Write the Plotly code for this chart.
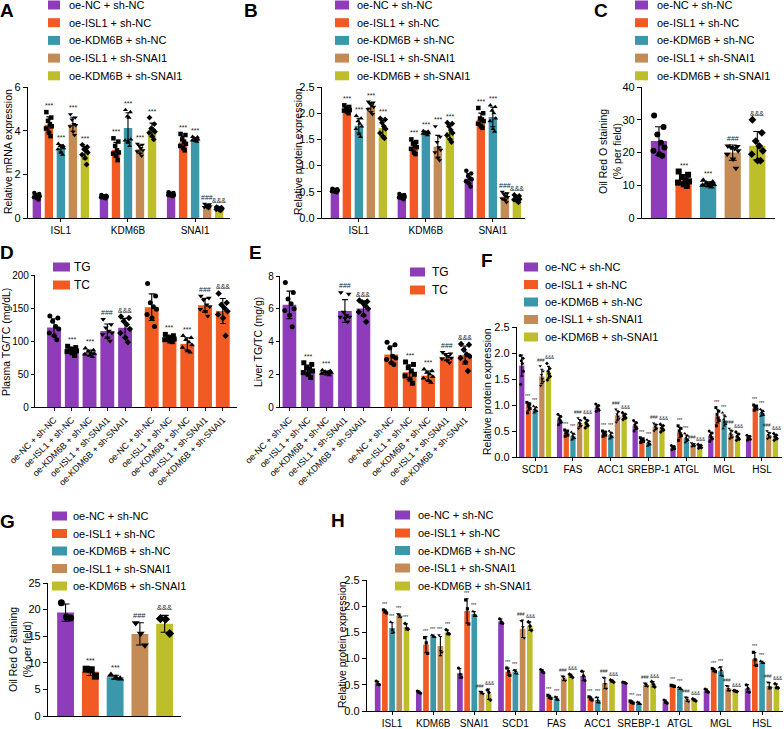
import numpy as np
import plotly.graph_objects as go

W, H = 784, 729
FONT = "Liberation Sans, Arial, sans-serif"

conditions = ["oe-NC + sh-NC", "oe-ISL1 + sh-NC", "oe-KDM6B + sh-NC",
              "oe-ISL1 + sh-SNAI1", "oe-KDM6B + sh-SNAI1"]
cond_colors = ["#8E3CB9", "#F15A22", "#3A98AA", "#C58B57", "#BEBE2B"]
cond_symbols = ["circle", "square", "triangle-up", "triangle-down", "diamond"]
lipid_kinds = ["TG", "TC"]
lipid_colors = ["#8E3CB9", "#F15A22"]

# ---------------- Panel A : relative mRNA expression ----------------
A_genes = ["ISL1", "KDM6B", "SNAI1"]
A_points = [
    [[1.15, 1.1, 1.05, 1.0, 1.0, 0.95, 0.9, 0.85], [1.05, 1.02, 1.0, 0.98, 0.97, 0.95, 0.93, 0.9], [1.18, 1.15, 1.12, 1.1, 1.05, 1.05, 1.02, 1.0]],
    [[4.85, 4.6, 4.45, 4.3, 4.2, 4.1, 3.9, 3.75], [3.65, 3.5, 3.3, 3.1, 3.0, 2.95, 2.85, 2.65], [3.85, 3.8, 3.6, 3.5, 3.4, 3.3, 3.2, 3.1]],
    [[3.4, 3.3, 3.3, 3.25, 3.2, 3.15, 3.0, 2.9], [4.95, 4.85, 4.65, 4.6, 3.6, 3.55, 3.5, 3.3], [3.72, 3.7, 3.65, 3.6, 3.6, 3.55, 3.55, 3.5]],
    [[4.75, 4.6, 4.5, 4.3, 4.25, 4.2, 3.95, 3.8], [3.4, 3.35, 3.3, 3.2, 3.1, 3.05, 2.95, 2.85], [0.65, 0.62, 0.58, 0.55, 0.53, 0.5, 0.48, 0.45]],
    [[3.35, 3.25, 3.15, 3.1, 3.0, 2.9, 2.75, 2.45], [4.6, 4.3, 4.1, 4.05, 3.95, 3.9, 3.75, 3.6], [0.5, 0.47, 0.45, 0.43, 0.42, 0.4, 0.38, 0.35]],
]
A_sig = [["", "", ""], ["***", "***", "***"], ["***", "***", "***"], ["***", "***", "###"], ["***", "***", "&&&"]]

# ---------------- Panel B : relative protein expression ----------------
B_genes = ["ISL1", "KDM6B", "SNAI1"]
B_points = [
    [[0.56, 0.55, 0.54, 0.53, 0.52, 0.51, 0.5, 0.49], [0.46, 0.44, 0.43, 0.42, 0.4, 0.39, 0.38, 0.36], [0.9, 0.85, 0.8, 0.76, 0.74, 0.7, 0.66, 0.6]],
    [[2.15, 2.12, 2.1, 2.08, 2.06, 2.05, 2.03, 2.0], [1.5, 1.45, 1.42, 1.38, 1.35, 1.32, 1.25, 1.22], [2.1, 2.0, 1.9, 1.88, 1.85, 1.8, 1.75, 1.72]],
    [[1.95, 1.9, 1.85, 1.8, 1.75, 1.7, 1.6, 1.55], [1.66, 1.65, 1.64, 1.63, 1.62, 1.61, 1.6, 1.58], [2.15, 2.12, 2.05, 2.0, 1.9, 1.85, 1.7, 1.65]],
    [[2.22, 2.2, 2.18, 2.15, 2.12, 2.08, 2.02, 1.98], [1.75, 1.55, 1.45, 1.35, 1.3, 1.25, 1.15, 1.1], [0.5, 0.47, 0.45, 0.42, 0.4, 0.37, 0.35, 0.3]],
    [[1.9, 1.88, 1.82, 1.75, 1.7, 1.62, 1.55, 1.52], [1.82, 1.8, 1.75, 1.68, 1.62, 1.58, 1.5, 1.45], [0.44, 0.42, 0.4, 0.38, 0.36, 0.35, 0.33, 0.3]],
]
B_sig = [["", "", ""], ["***", "***", "***"], ["***", "***", "***"], ["***", "***", "###"], ["***", "***", "&&&"]]

# ---------------- Panel C : Oil Red O staining ----------------
C_points = [
    [31.3, 27.8, 25.5, 23.0, 21.5, 20.5, 19.5, 19.0],
    [14.2, 13.2, 12.5, 11.5, 11.2, 10.8, 10.3, 9.8],
    [11.5, 11.0, 10.6, 10.4, 10.2, 10.0, 9.8, 9.5],
    [22.0, 21.8, 21.5, 21.2, 20.5, 19.5, 18.0, 15.2],
    [30.0, 26.0, 23.5, 22.0, 20.5, 19.5, 17.5, 17.5],
]
C_sig = ["", "***", "***", "###", "&&&"]

# ---------------- Panel D : plasma TG / TC ----------------
D_points_TG = [
    [138, 135, 130, 122, 118, 112, 108, 102],
    [92, 90, 88, 87, 85, 84, 82, 78],
    [89, 86, 84, 82, 81, 80, 78, 76],
    [133, 125, 120, 115, 112, 110, 105, 100],
    [137, 135, 130, 125, 118, 112, 105, 98],
]
D_points_TC = [
    [187, 168, 158, 152, 148, 140, 135, 122],
    [110, 108, 106, 104, 103, 102, 100, 99],
    [108, 105, 102, 98, 94, 90, 85, 83],
    [168, 165, 162, 155, 152, 148, 145, 138],
    [172, 158, 155, 150, 145, 140, 135, 108],
]
D_sig = ["", "***", "***", "###", "&&&"]

# ---------------- Panel E : liver TG / TC ----------------
E_points_TG = [
    [7.6, 7.0, 6.6, 6.3, 6.0, 5.9, 5.6, 4.9],
    [2.7, 2.6, 2.4, 2.3, 2.2, 2.1, 2.0, 1.8],
    [2.25, 2.2, 2.15, 2.1, 2.1, 2.05, 2.0, 1.95],
    [7.0, 6.9, 5.8, 5.6, 5.5, 5.5, 5.4, 5.2],
    [6.5, 6.45, 6.4, 6.2, 6.0, 5.8, 5.6, 5.2],
]
E_points_TC = [
    [3.95, 3.8, 3.6, 3.1, 3.0, 2.9, 2.7, 2.6],
    [2.75, 2.6, 2.4, 2.2, 2.0, 1.9, 1.7, 1.45],
    [2.3, 2.2, 2.1, 2.0, 1.85, 1.75, 1.6, 1.5],
    [3.35, 3.25, 3.2, 3.1, 3.0, 2.95, 2.85, 2.7],
    [3.85, 3.8, 3.5, 3.2, 3.1, 3.0, 2.75, 2.2],
]
E_sig = ["", "***", "***", "###", "&&&"]

# ---------------- Panel F : lipid-metabolism proteins (mice) ----------------
F_genes = ["SCD1", "FAS", "ACC1", "SREBP-1", "ATGL", "MGL", "HSL"]
F_points = [
    [[1.95, 1.9, 1.85, 1.8, 1.65, 1.4], [0.82, 0.78, 0.74, 0.7, 0.67, 0.62], [1.02, 0.99, 0.96, 0.93, 0.9, 0.88],
     [0.7, 0.66, 0.62, 0.58, 0.55, 0.5], [0.22, 0.2, 0.19, 0.17, 0.16, 0.14], [0.5, 0.46, 0.42, 0.38, 0.35, 0.3],
     [0.42, 0.4, 0.38, 0.36, 0.34, 0.32]],
    [[1.05, 1.02, 1.0, 0.97, 0.93, 0.85], [0.52, 0.5, 0.47, 0.45, 0.42, 0.4], [0.5, 0.48, 0.46, 0.44, 0.42, 0.4],
     [0.37, 0.35, 0.33, 0.31, 0.3, 0.28], [0.6, 0.55, 0.5, 0.45, 0.41, 0.32], [0.95, 0.88, 0.82, 0.75, 0.7, 0.6],
     [1.0, 0.98, 0.96, 0.94, 0.92, 0.9]],
    [[0.98, 0.95, 0.92, 0.9, 0.88, 0.85], [0.48, 0.44, 0.41, 0.38, 0.36, 0.33], [0.5, 0.46, 0.43, 0.4, 0.38, 0.35],
     [0.33, 0.3, 0.28, 0.26, 0.24, 0.21], [0.45, 0.41, 0.37, 0.34, 0.32, 0.28], [0.85, 0.78, 0.72, 0.68, 0.63, 0.55],
     [0.92, 0.88, 0.86, 0.84, 0.81, 0.79]],
    [[1.75, 1.65, 1.58, 1.5, 1.45, 1.37], [0.75, 0.7, 0.66, 0.64, 0.6, 0.55], [0.92, 0.87, 0.82, 0.78, 0.74, 0.67],
     [0.65, 0.62, 0.59, 0.57, 0.55, 0.5], [0.27, 0.25, 0.23, 0.22, 0.21, 0.2], [0.55, 0.5, 0.45, 0.42, 0.38, 0.35],
     [0.5, 0.46, 0.43, 0.4, 0.38, 0.35]],
    [[1.8, 1.7, 1.65, 1.6, 1.55, 1.48], [0.75, 0.7, 0.66, 0.63, 0.6, 0.56], [0.85, 0.82, 0.79, 0.77, 0.75, 0.72],
     [0.63, 0.6, 0.56, 0.54, 0.52, 0.48], [0.24, 0.22, 0.21, 0.2, 0.18, 0.17], [0.48, 0.44, 0.4, 0.37, 0.34, 0.32],
     [0.45, 0.42, 0.39, 0.37, 0.35, 0.32]],
]
F_sig = [[""] * 7, ["***"] * 7, ["***"] * 7, ["###"] * 7, ["&&&"] * 7]

# ---------------- Panel G : Oil Red O staining (cells) ----------------
G_points = [
    [21.3, 18.6, 18.4],
    [8.8, 8.7, 7.5],
    [7.7, 7.2, 7.0],
    [17.5, 15.5, 13.3],
    [18.3, 18.2, 15.5],
]
G_sig = ["", "***", "***", "###", "&&&"]

# ---------------- Panel H : proteins (cells) ----------------
H_genes = ["ISL1", "KDM6B", "SNAI1", "SCD1", "FAS", "ACC1", "SREBP-1", "ATGL", "MGL", "HSL"]
H_points = [
    [[0.57, 0.52, 0.5], [0.38, 0.36, 0.34], [0.82, 0.7, 0.64], [1.76, 1.7, 1.67], [0.79, 0.76, 0.73],
     [0.76, 0.67, 0.58], [0.55, 0.54, 0.53], [0.21, 0.18, 0.15], [0.42, 0.39, 0.36], [0.5, 0.43, 0.36]],
    [[1.93, 1.9, 1.87], [1.4, 1.3, 1.1], [2.12, 1.95, 1.66], [0.82, 0.75, 0.68], [0.3, 0.27, 0.24],
     [0.27, 0.24, 0.21], [0.19, 0.17, 0.15], [0.49, 0.48, 0.47], [0.81, 0.78, 0.75], [1.12, 0.98, 0.87]],
    [[1.7, 1.55, 1.5], [1.45, 1.43, 1.41], [1.9, 1.84, 1.81], [0.78, 0.76, 0.71], [0.27, 0.24, 0.21],
     [0.26, 0.21, 0.16], [0.17, 0.15, 0.13], [0.45, 0.43, 0.41], [0.83, 0.78, 0.67], [0.95, 0.93, 0.91]],
    [[1.85, 1.82, 1.79], [1.45, 1.15, 1.12], [0.37, 0.35, 0.33], [1.72, 1.6, 1.39], [0.66, 0.62, 0.58],
     [0.64, 0.52, 0.43], [0.53, 0.5, 0.47], [0.26, 0.22, 0.18], [0.48, 0.42, 0.39], [0.55, 0.45, 0.44]],
    [[1.67, 1.58, 1.56], [1.55, 1.48, 1.47], [0.4, 0.35, 0.21], [1.7, 1.62, 1.54], [0.7, 0.67, 0.64],
     [0.59, 0.57, 0.55], [0.56, 0.51, 0.46], [0.23, 0.21, 0.19], [0.39, 0.38, 0.37], [0.52, 0.45, 0.44]],
]
H_sig = [[""] * 10,
         ["***"] * 10,
         ["***"] * 10,
         ["***", "***", "###", "###", "###", "###", "###", "###", "###", "###"],
         ["***", "***", "&&&", "&&&", "&&&", "&&&", "&&&", "&&&", "&&&", "&&&"]]

# ====================================================================
fig = go.Figure()
annotations = []
shapes = []
JIT8 = [-0.3, 0.28, -0.1, 0.12, 0.34, -0.34, 0.02, 0.2]
JIT6 = [-0.3, 0.25, -0.08, 0.1, 0.32, -0.2]
JIT3 = [-0.25, 0.05, 0.3]


def jit(n):
    return JIT8[:n] if n > 6 else (JIT6[:n] if n > 3 else JIT3[:n])


def axn(n):
    return ("x", "y") if n == 1 else (f"x{n}", f"y{n}")


def mean_sd(pts):
    a = np.asarray(pts, dtype=float)
    return float(a.mean()), float(a.std(ddof=1))


def add_bars(n, xs, pts_list, color, name, bw, msize, symbol_list, sig_list, sig_size, cap=3, spread=False):
    xa, ya = axn(n)
    means, sds = zip(*[mean_sd(p) for p in pts_list])
    fig.add_trace(go.Bar(x=list(xs), y=list(means), width=bw, marker=dict(color=color, line=dict(width=0)),
                         error_y=dict(type="data", array=list(sds), color="black", thickness=1.1, width=cap),
                         name=name, xaxis=xa, yaxis=ya, showlegend=False, hoverinfo="skip"))
    for x, p, m, s, sym, sg in zip(xs, pts_list, means, sds, symbol_list, sig_list):
        fig.add_trace(go.Scatter(x=[x + o * bw for o in jit(len(p))], y=p, mode="markers",
                                 marker=dict(symbol=sym, size=msize, color="black", line=dict(width=0)),
                                 xaxis=xa, yaxis=ya, showlegend=False, hoverinfo="skip"))
        if sg:
            top = max(m + s, max(p))
            xs_shift = 0
            if spread:
                xs_shift = -1.2 if sg == "###" else (1.2 if sg == "&&&" else 0)
            annotations.append(dict(x=x, y=top, xref=xa, yref=ya, text=sg, showarrow=False,
                                    yanchor="bottom", yshift=1, xshift=xs_shift,
                                    font=dict(size=sig_size, color="#222", family=FONT)))


def add_grouped(n, genes, points, sig, pitch, bw, msize, sig_size, cap, spread=False):
    for s in range(5):
        xs = [g + (s - 2) * pitch for g in range(len(genes))]
        add_bars(n, xs, points[s], cond_colors[s], conditions[s], bw, msize,
                 [cond_symbols[s]] * len(genes), sig[s], sig_size, cap=cap, spread=spread)


# A, B, F, H grouped panels
add_grouped(1, A_genes, A_points, A_sig, 0.179, 0.125, 4.5, 7, 2.5)
add_grouped(2, B_genes, B_points, B_sig, 0.179, 0.125, 4.5, 7, 2.5)
add_grouped(6, F_genes, F_points, F_sig, 0.177, 0.14, 3, 4.5, 1.5, spread=True)
add_grouped(8, H_genes, H_points, H_sig, 0.175, 0.138, 3.2, 4.5, 1.5, spread=True)

# C and G: one bar per condition
for s in range(5):
    add_bars(3, [s], [C_points[s]], cond_colors[s], conditions[s], 0.66, 6,
             [cond_symbols[s]], [C_sig[s]], 7, cap=4)
    add_bars(7, [s], [G_points[s]], cond_colors[s], conditions[s], 0.68, 7,
             [cond_symbols[s]], [G_sig[s]], 7.5, cap=4)

# D and E: TG / TC
for n, tg, tc, sg in [(4, D_points_TG, D_points_TC, D_sig), (5, E_points_TG, E_points_TC, E_sig)]:
    bw = 0.78 if n == 4 else 0.74
    for k, pts in enumerate([tg, tc]):
        xs = [i + 5.5 * k for i in range(5)]
        add_bars(n, xs, pts, lipid_colors[k], lipid_kinds[k], bw, 5, cond_symbols, sg, 7, cap=3)

# ---------------- axes ----------------
axis_line = dict(showline=True, linecolor="black", linewidth=1.3, showgrid=False, zeroline=False,
                 ticks="outside", ticklen=4, tickwidth=1.3, tickcolor="black", fixedrange=True,
                 automargin=False)
tick_font = dict(size=11, color="black", family=FONT)

panels = {
    1: dict(box=(28, 230, 87, 218), xr=(-0.49, 2.52), yr=(0, 6), yt=[0, 2, 4, 6], yf="",
            xt=[0, 1, 2], xl=A_genes, xang=0, xfs=10, yfs=11),
    2: dict(box=(322, 525, 87, 218), xr=(-0.55, 2.48), yr=(0, 2.5), yt=[0, 0.5, 1, 1.5, 2, 2.5], yf=".1f",
            xt=[0, 1, 2], xl=B_genes, xang=0, xfs=10, yfs=11),
    3: dict(box=(642, 775, 87, 218), xr=(-0.69, 4.72), yr=(0, 40), yt=[0, 10, 20, 30, 40], yf="",
            xt=None, xl=None, xang=0, xfs=10, yfs=11),
    4: dict(box=(35, 237, 275, 407), xr=(-1.07, 10.3), yr=(0, 200), yt=[0, 50, 100, 150, 200], yf="",
            xt=[i + 5.5 * k for k in range(2) for i in range(5)], xl=conditions * 2, xang=-45, xfs=9, yfs=10),
    5: dict(box=(280, 472, 276, 407), xr=(-0.51, 9.87), yr=(0, 8), yt=[0, 2, 4, 6, 8], yf="",
            xt=[i + 5.5 * k for k in range(2) for i in range(5)], xl=conditions * 2, xang=-45, xfs=9, yfs=10),
    6: dict(box=(517, 782, 327, 457), xr=(-0.48, 6.53), yr=(0, 2.5), yt=[0, 0.5, 1, 1.5, 2, 2.5], yf=".1f",
            xt=list(range(7)), xl=F_genes, xang=0, xfs=10, yfs=11),
    7: dict(box=(48, 181, 583, 716), xr=(-0.71, 4.66), yr=(0, 25), yt=[0, 5, 10, 15, 20, 25], yf="",
            xt=None, xl=None, xang=0, xfs=10, yfs=11),
    8: dict(box=(367, 783, 580, 711), xr=(-0.61, 9.51), yr=(0, 2.5), yt=[0, 0.5, 1, 1.5, 2, 2.5], yf=".1f",
            xt=list(range(10)), xl=H_genes, xang=0, xfs=10, yfs=11),
}

layout_axes = {}
for n, p in panels.items():
    x0, x1, y0, y1 = p["box"]
    xa, ya = axn(n)
    xkey = "xaxis" if n == 1 else f"xaxis{n}"
    ykey = "yaxis" if n == 1 else f"yaxis{n}"
    xd = dict(axis_line, domain=[x0 / W, x1 / W], range=list(p["xr"]), anchor=ya)
    if p["xt"] is None:
        xd.update(showticklabels=False, ticks="")
    else:
        xd.update(tickmode="array", tickvals=p["xt"], ticktext=p["xl"], tickangle=p["xang"],
                  tickfont=dict(tick_font, size=p["xfs"]), ticklen=3)
    yd = dict(axis_line, domain=[1 - y1 / H, 1 - y0 / H], range=list(p["yr"]), anchor=xa,
              tickmode="array", tickvals=p["yt"], tickformat=p["yf"],
              tickfont=dict(tick_font, size=p["yfs"]))
    if p["yfs"] < 11:
        yd.update(ticklen=3)
    layout_axes[xkey] = xd
    layout_axes[ykey] = yd

# ---------------- axis titles & panel letters ----------------
ytitles = [
    (8, 152, "Relative mRNA expression"),
    (298, 152, "Relative protein expression"),
    (610, 152, "Oil Red O staining<br>(% per field)"),
    (6, 342, "Plasma TG/TC (mg/dL)"),
    (258, 342, "Liver TG/TC (mg/g)"),
    (487, 392, "Relative protein expression"),
    (20, 650, "Oil Red O staining<br>(% per field)"),
    (342, 645, "Relative protein expression"),
]
for x, y, t in ytitles:
    annotations.append(dict(x=x / W, y=1 - y / H, xref="paper", yref="paper", text=t, textangle=-90,
                            showarrow=False, xanchor="center", yanchor="middle",
                            font=dict(size=10.5, color="black", family=FONT)))

letters = [("A", 7, 11), ("B", 251, 11), ("C", 601, 11), ("D", 7, 252), ("E", 256, 252),
           ("F", 487, 260), ("G", 7, 521), ("H", 338, 520)]
for t, x, y in letters:
    annotations.append(dict(x=x / W, y=1 - y / H, xref="paper", yref="paper", text=f"<b>{t}</b>",
                            showarrow=False, xanchor="center", yanchor="middle",
                            font=dict(size=19, color="black", family=FONT)))


# ---------------- legends (swatch + label) ----------------
def draw_legend(sq_x0, sq_x1, text_x, row_ys, labels, colors, size=11, sq_h=9):
    for y, lab, col in zip(row_ys, labels, colors):
        shapes.append(dict(type="rect", xref="paper", yref="paper", x0=sq_x0 / W, x1=sq_x1 / W,
                           y0=1 - (y + sq_h / 2) / H, y1=1 - (y - sq_h / 2) / H,
                           fillcolor=col, line=dict(width=0), layer="above"))
        annotations.append(dict(x=text_x / W, y=1 - y / H, xref="paper", yref="paper", text=lab,
                                showarrow=False, xanchor="left", yanchor="middle",
                                font=dict(size=size, color="black", family=FONT)))


rows_top = [5, 22.7, 40.4, 58.1, 75.8]
draw_legend(48, 60, 67, rows_top, conditions, cond_colors)
draw_legend(335, 349, 355, rows_top, conditions, cond_colors)
draw_legend(635, 648, 655, rows_top, conditions, cond_colors)
draw_legend(53, 70, 72, [267, 285], lipid_kinds, lipid_colors, size=12, sq_h=9)
draw_legend(410, 425, 430, [272, 290], lipid_kinds, lipid_colors, size=12, sq_h=9)
draw_legend(524, 538, 543, [267, 284.5, 302, 319.5, 337], conditions, cond_colors)
draw_legend(52, 67, 71, [516, 533.5, 551, 568.5, 586], conditions, cond_colors)
draw_legend(395, 410, 416, [515, 533, 550.5, 568, 586], conditions, cond_colors)

fig.update_layout(
    width=W, height=H, margin=dict(l=0, r=0, t=0, b=0), autosize=False,
    paper_bgcolor="white", plot_bgcolor="rgba(0,0,0,0)", showlegend=False,
    barmode="overlay", font=dict(family=FONT, color="black"),
    annotations=annotations, shapes=shapes, **layout_axes,
)

fig.write_html("out.html", include_plotlyjs=True, config={"displayModeBar": False},
               post_script="document.body.style.margin='0px';document.body.style.padding='0px';"
                           "document.documentElement.style.overflow='hidden';")
